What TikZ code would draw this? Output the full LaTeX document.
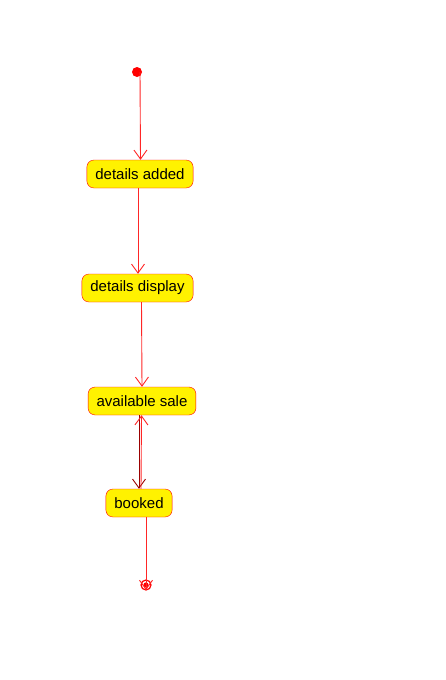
\documentclass[tikz,border=0pt]{standalone}
\usepackage{fontspec}
\setmainfont{Liberation Sans}
\usetikzlibrary{arrows.meta}

\begin{document}
\begin{tikzpicture}[>={Straight Barb[length=9pt,width=13pt]}, x=1pt, y=-1pt,
    state/.style={draw=red, fill=yellow, rounded corners=7pt, minimum height=28pt,
      inner xsep=8.5pt, font=\fontsize{15}{17}\selectfont},
    edge/.style={->, red!85!white, line width=0.9pt}]
  \useasboundingbox (0,0) rectangle (445,680);
  \fill[red] (137,72) circle (5pt) coordinate (start);
  \node[state] (added)   at (140,174) {details added};
  \node[state] (display) at (137.5,288) {details display};
  \node[state] (sale)    at (142,401) {available sale};
  \node[state] (booked)  at (139,503) {booked};
  \draw[red, line width=1.2pt] (146,585) coordinate (stop) circle (5pt);
  \fill[red] (stop) circle (2.6pt);
  % transitions
  \draw[edge] ([xshift=3pt]start) -- ([xshift=0.5pt]added.north);
  \draw[edge] ([xshift=-2pt]added.south) -- ([xshift=0.5pt]display.north);
  \draw[edge] ([xshift=4pt]display.south) -- (sale.north);
  \draw[edge, red!60!black] ([xshift=-3pt]sale.south) -- (booked.north);
  \draw[edge] ([xshift=2pt]booked.north) -- ([xshift=-0.5pt]sale.south);
  \draw[edge] ([xshift=7pt]booked.south) -- ([yshift=-5pt]stop);
\end{tikzpicture}
\end{document}
